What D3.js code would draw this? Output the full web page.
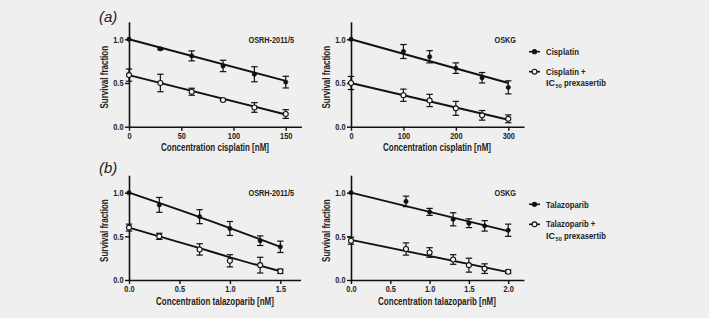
<!DOCTYPE html>
<html>
<head>
<meta charset="utf-8">
<script src="https://cdn.jsdelivr.net/npm/d3@7"></script>
<style>
  html, body { margin: 0; padding: 0; background: #efefef; }
  svg { display: block; }
  text { font-family: "Liberation Sans", Arial, sans-serif; font-weight: bold; fill: #222; }
</style>
</head>
<body>
<svg id="chart"></svg>
<script>
// ---- data ----
// (a) cisplatin, OSRH-2011/5
const cisOsrhX = [0, 30, 60, 90, 120, 150];
const cisOsrhMono = [1.0, 0.89, 0.81, 0.695, 0.60, 0.51];
const cisOsrhMonoErr = [0, 0.01, 0.057, 0.065, 0.086, 0.067];
const cisOsrhComb = [0.59, 0.50, 0.40, 0.305, 0.22, 0.145];
const cisOsrhCombErr = [0.07, 0.10, 0.04, 0.01, 0.055, 0.05];
const cisOsrhMonoFit = [[0, 1.0], [150, 0.525]];
const cisOsrhCombFit = [[0, 0.59], [150, 0.14]];

// (a) cisplatin, OSKG
const cisOskgX = [0, 100, 150, 200, 250, 300];
const cisOskgMono = [1.0, 0.86, 0.80, 0.67, 0.56, 0.45];
const cisOskgMonoErr = [0, 0.08, 0.07, 0.06, 0.06, 0.075];
const cisOskgComb = [0.50, 0.36, 0.30, 0.21, 0.13, 0.09];
const cisOskgCombErr = [0.075, 0.07, 0.07, 0.08, 0.055, 0.045];
const cisOskgMonoFit = [[0, 1.0], [300, 0.50]];
const cisOskgCombFit = [[0, 0.50], [300, 0.08]];

// (b) talazoparib, OSRH-2011/5
const talOsrhX = [0, 0.3, 0.7, 1.0, 1.3, 1.5];
const talOsrhMono = [1.0, 0.86, 0.725, 0.59, 0.45, 0.38];
const talOsrhMonoErr = [0, 0.085, 0.08, 0.08, 0.055, 0.065];
const talOsrhComb = [0.60, 0.50, 0.35, 0.22, 0.17, 0.10];
const talOsrhCombErr = [0.04, 0.035, 0.065, 0.07, 0.09, 0.025];
const talOsrhMonoFit = [[0, 1.0], [0.7, 0.72], [1.5, 0.38]];
const talOsrhCombFit = [[0, 0.60], [0.7, 0.365], [1.0, 0.26], [1.5, 0.10]];

// (b) talazoparib, OSKG
const talOskgX = [0, 0.7, 1.0, 1.3, 1.5, 1.7, 2.0];
const talOskgMono = [1.0, 0.90, 0.78, 0.695, 0.65, 0.62, 0.57];
const talOskgMonoErr = [0, 0.06, 0.04, 0.075, 0.05, 0.06, 0.07];
const talOskgComb = [0.45, 0.355, 0.315, 0.235, 0.17, 0.13, 0.095];
const talOskgCombErr = [0.04, 0.07, 0.055, 0.055, 0.08, 0.055, 0.02];
const talOskgMonoFit = [[0, 1.0], [2.0, 0.56]];
const talOskgCombFit = [[0, 0.46], [2.0, 0.09]];

const yTicks = [0, 0.5, 1.0];
const cisOsrhTicks = [0, 50, 100, 150];
const cisOskgTicks = [0, 100, 200, 300];
const talOsrhTicks = [0, 0.5, 1.0, 1.5];
const talOskgTicks = [0, 0.5, 1.0, 1.5, 2.0];

const cellLines = ["OSRH-2011/5", "OSKG"];
const xTitles = ["Concentration cisplatin [nM]", "Concentration talazoparib [nM]"];
const legendMono = ["Cisplatin", "Talazoparib"];
const legendComb = ["Cisplatin +", "Talazoparib +"];

// ---- layout ----
const W = 709, H = 318;
const svg = d3.select("#chart").attr("width", W).attr("height", H);

// figure font is a condensed sans, squeeze regular glyphs to match
function narrow(sel, k = 0.8) {
  sel.each(function () {
    const w = this.getComputedTextLength();
    d3.select(this).attr("textLength", w * k).attr("lengthAdjust", "spacingAndGlyphs");
  });
}

const panels = [
  { x0: 129, top: 21.8, bottom: 126.7, xMax: 165, xs: cisOsrhX, mono: cisOsrhMono, monoErr: cisOsrhMonoErr, comb: cisOsrhComb, combErr: cisOsrhCombErr, monoFit: cisOsrhMonoFit, combFit: cisOsrhCombFit, ticks: cisOsrhTicks, fmt: d3.format("d"), cell: cellLines[0], title: xTitles[0], ux: 1.045 },
  { x0: 351, top: 21.8, bottom: 126.7, xMax: 330, xs: cisOskgX, mono: cisOskgMono, monoErr: cisOskgMonoErr, comb: cisOskgComb, combErr: cisOskgCombErr, monoFit: cisOskgMonoFit, combFit: cisOskgCombFit, ticks: cisOskgTicks, fmt: d3.format("d"), cell: cellLines[1], title: xTitles[0], ux: 0.5243 },
  { x0: 129, top: 175.2, bottom: 280, xMax: 1.7, xs: talOsrhX, mono: talOsrhMono, monoErr: talOsrhMonoErr, comb: talOsrhComb, combErr: talOsrhCombErr, monoFit: talOsrhMonoFit, combFit: talOsrhCombFit, ticks: talOsrhTicks, fmt: d3.format(".1f"), cell: cellLines[0], title: xTitles[1], ux: 100.9 },
  { x0: 351, top: 175.2, bottom: 280, xMax: 2.2, xs: talOskgX, mono: talOskgMono, monoErr: talOskgMonoErr, comb: talOskgComb, combErr: talOskgCombErr, monoFit: talOskgMonoFit, combFit: talOskgCombFit, ticks: talOskgTicks, fmt: d3.format(".1f"), cell: cellLines[1], title: xTitles[1], ux: 78.6 }
];

const line = d3.line().curve(d3.curveMonotoneX);

panels.forEach(p => {
  const xScale = d3.scaleLinear().domain([0, p.xMax]).range([p.x0, p.x0 + p.xMax * p.ux]);
  const yScale = d3.scaleLinear().domain([0, 1.2]).range([p.bottom, p.top]);
  const g = svg.append("g");

  // axes
  const yAx = g.append("g").attr("transform", `translate(${p.x0},0)`)
    .call(d3.axisLeft(yScale).tickValues(yTicks).tickFormat(d3.format(".1f")).tickSize(4).tickSizeOuter(0).tickPadding(1.5));
  const xAx = g.append("g").attr("transform", `translate(0,${p.bottom})`)
    .call(d3.axisBottom(xScale).tickValues(p.ticks).tickFormat(p.fmt).tickSize(4).tickSizeOuter(0).tickPadding(1.5));
  [yAx, xAx].forEach(a => {
    a.select(".domain").attr("stroke", "#111").attr("stroke-width", 1.6);
    a.selectAll(".tick line").attr("stroke", "#111").attr("stroke-width", 1.4);
    a.selectAll(".tick text").style("font-size", "9px").attr("fill", "#222").call(narrow, 0.82);
  });

  g.append("text")
    .attr("transform", `translate(${p.x0 - 21},${(p.top + p.bottom) / 2 + 3}) rotate(-90)`)
    .attr("text-anchor", "middle")
    .style("font-size", "10px")
    .text("Survival fraction")
    .call(narrow);

  g.append("text")
    .attr("x", p.x0 + 86)
    .attr("y", p.bottom + 24.5)
    .attr("text-anchor", "middle")
    .style("font-size", "10px")
    .text(p.title)
    .call(narrow);

  g.append("text")
    .attr("x", p.x0 + 165)
    .attr("y", yScale(1.0) + 3.5)
    .attr("text-anchor", "end")
    .style("font-size", "9.5px")
    .text(p.cell)
    .call(narrow, 0.77);

  // fit lines
  [p.monoFit, p.combFit].forEach(f => {
    g.append("path")
      .attr("d", line(f.map(d => [xScale(d[0]), yScale(d[1])])))
      .attr("fill", "none").attr("stroke", "#111").attr("stroke-width", 1.9);
  });

  // error bars + markers
  const series = [
    { vals: p.mono, errs: p.monoErr, open: false },
    { vals: p.comb, errs: p.combErr, open: true }
  ];
  series.forEach(s => {
    const pts = p.xs.map((x, i) => ({ x, y: s.vals[i], e: s.errs[i] }));
    const eb = g.append("g").attr("stroke", "#111").attr("stroke-width", 1.2);
    pts.filter(d => d.e > 0).forEach(d => {
      const cx = xScale(d.x), y1 = yScale(d.y - d.e), y2 = yScale(d.y + d.e);
      eb.append("line").attr("x1", cx).attr("x2", cx).attr("y1", y1).attr("y2", y2);
      eb.append("line").attr("x1", cx - 3.2).attr("x2", cx + 3.2).attr("y1", y1).attr("y2", y1);
      eb.append("line").attr("x1", cx - 3.2).attr("x2", cx + 3.2).attr("y1", y2).attr("y2", y2);
    });
    g.selectAll(null).data(pts).enter().append("circle")
      .attr("cx", d => xScale(d.x))
      .attr("cy", d => yScale(d.y))
      .attr("r", s.open ? 2.5 : 2.2)
      .attr("fill", s.open ? "#f4f4f4" : "#111")
      .attr("stroke", "#111")
      .attr("stroke-width", s.open ? 1.1 : 0.5);
  });
});

// panel letters
[["(a)", 22], ["(b)", 173]].forEach(([t, y]) => {
  svg.append("text").attr("x", 99).attr("y", y)
    .style("font-weight", "normal").style("font-style", "italic").style("font-size", "15px")
    .text(t);
});

// legends
[[51.7, 0], [204.3, 1]].forEach(([y, k]) => {
  const lg = svg.append("g").attr("transform", `translate(529,${y})`);
  [[0, false, legendMono[k]], [20, true, legendComb[k]]].forEach(([dy, open, label]) => {
    lg.append("line").attr("x1", 0).attr("x2", 11).attr("y1", dy).attr("y2", dy)
      .attr("stroke", "#111").attr("stroke-width", 1.6);
    lg.append("circle").attr("cx", 5.5).attr("cy", dy).attr("r", open ? 2.4 : 2.1)
      .attr("fill", open ? "#f4f4f4" : "#111").attr("stroke", "#111").attr("stroke-width", 1.1);
    lg.append("text").attr("x", 17).attr("y", dy + 3.2).style("font-size", "9.5px").text(label).call(narrow, 0.82);
  });
  // second line: IC50 prexasertib, built from separate pieces
  let cx = 17;
  const base = 20 + 14.8;
  [["IC", 9, 0, 1], ["50", 5.5, 1.8, 1], ["prexasertib", 9.5, 0, 0.82]].forEach(([t, fs, off, k], i) => {
    const el = lg.append("text").attr("x", cx).attr("y", base + off).style("font-size", fs + "px").text(t);
    const w = el.node().getComputedTextLength();
    if (k < 1) el.call(narrow, k);
    cx += w * k + (i === 1 ? 2.2 : 0.6);
  });
});
</script>
</body>
</html>
